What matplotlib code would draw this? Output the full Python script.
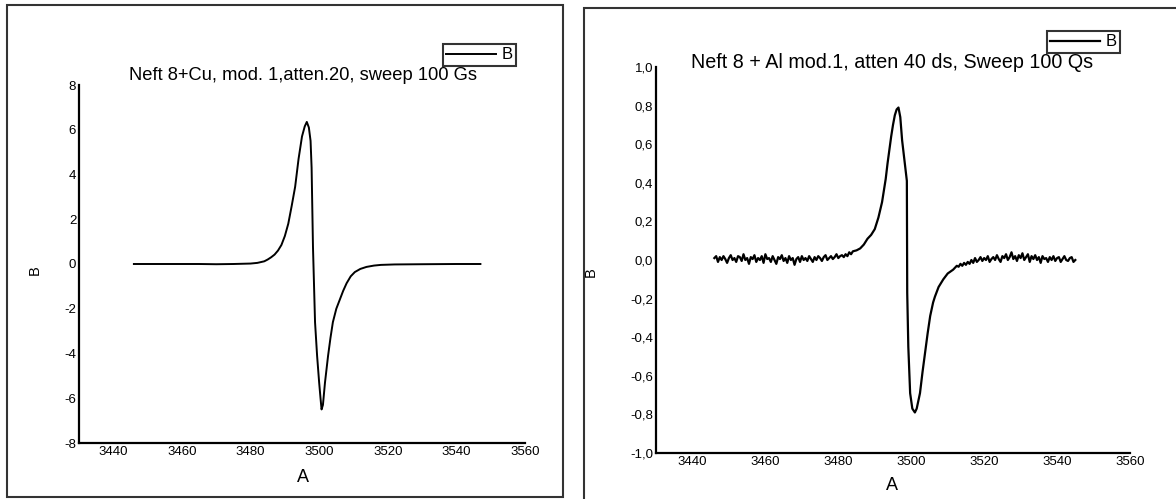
import numpy as np
import matplotlib
matplotlib.use('Agg')
import matplotlib.pyplot as plt
from matplotlib.patches import Rectangle

plt.rcParams['font.family'] = ['Liberation Sans', 'DejaVu Sans']
plt.rcParams['axes.unicode_minus'] = False

W, H = 1176, 499

# --- left panel: Neft 8 + Cu ---
cu_title = "Neft 8+Cu, mod. 1,atten.20, sweep 100 Gs"
cu_x = [3446, 3450, 3455, 3460, 3465, 3470, 3475, 3480, 3482, 3484, 3485, 3486, 3487,
        3488, 3489, 3490, 3491, 3492, 3493, 3494, 3495, 3495.8, 3496.4, 3497.0, 3497.5,
        3497.8, 3498.2, 3498.8, 3499.4, 3500.0, 3500.4, 3500.7, 3501.1, 3501.7, 3502.6,
        3503.3, 3504.0, 3505.0, 3506.0, 3507.0, 3508.0, 3509.2, 3510.4, 3512.0, 3513.8,
        3516, 3518, 3522, 3530, 3540, 3547]
cu_y = [0, 0, 0, 0, 0, -0.01, 0, 0.02, 0.05, 0.12, 0.2, 0.3, 0.42,
        0.6, 0.85, 1.25, 1.8, 2.6, 3.45, 4.7, 5.7, 6.15, 6.35, 6.1, 5.5,
        4.3, 0.76, -2.6, -4.1, -5.3, -6.0, -6.5, -6.3, -5.3, -4.1,
        -3.3, -2.6, -2.0, -1.6, -1.2, -0.86, -0.55, -0.36, -0.22, -0.13,
        -0.07, -0.04, -0.02, -0.01, 0, 0]
cu_yticks = [-8, -6, -4, -2, 0, 2, 4, 6, 8]
cu_ylabels = ["-8", "-6", "-4", "-2", "0", "2", "4", "6", "8"]

# --- right panel: Neft 8 + Al ---
al_title = "Neft 8 + Al mod.1, atten 40 ds, Sweep 100 Qs"
# noisy baseline before the line, sampled every 0.5 G from 3446
al_base1 = [
    0.01, 0.02, -0.01, 0.015, 0.0, 0.02, 0.005, -0.015, 0.01, 0.025,
    0.0, 0.01, -0.01, 0.02, 0.015, -0.005, 0.03, 0.0, 0.01, -0.02,
    0.015, 0.005, 0.025, -0.01, 0.01, 0.0, 0.02, -0.015, 0.03, 0.005,
    0.01, -0.01, 0.02, 0.0, -0.02, 0.015, 0.005, 0.025, -0.005, 0.01,
    -0.015, 0.02, 0.0, 0.01, -0.025, 0.005, 0.015, -0.01, 0.02, 0.0,
    0.01, -0.005, 0.02, 0.005, -0.01, 0.015, 0.0, 0.02, 0.01, -0.005,
    0.015, 0.025, 0.0, 0.01, 0.02, 0.005, 0.015, 0.03, 0.01, 0.02,
    0.025, 0.015, 0.03, 0.02, 0.04, 0.03, 0.045]
al_line_x = [3485, 3486, 3487, 3488, 3489, 3490, 3491, 3492, 3492.5, 3493, 3493.5,
             3494, 3494.5, 3495, 3495.5, 3496, 3496.5, 3497, 3497.5, 3498.8, 3498.9,
             3499.2, 3499.7, 3500.3, 3501.0, 3501.5, 3502.4, 3503.1, 3503.8, 3504.5,
             3505.2, 3506.0, 3506.5, 3507.5, 3508.8, 3510, 3511.5]
al_line_y = [0.05, 0.06, 0.08, 0.11, 0.13, 0.16, 0.22, 0.3, 0.36, 0.42, 0.5,
             0.57, 0.64, 0.7, 0.75, 0.78, 0.79, 0.74, 0.62, 0.41, -0.17,
             -0.45, -0.69, -0.77, -0.79, -0.77, -0.69, -0.58, -0.48, -0.38,
             -0.29, -0.22, -0.19, -0.14, -0.10, -0.07, -0.05]
# noisy baseline after the line, every 0.5 G from 3512
al_base2 = [
    -0.04, -0.03, -0.035, -0.02, -0.03, -0.015, -0.025, -0.01, -0.02, 0.0,
    -0.015, 0.01, -0.01, 0.0, 0.015, -0.005, 0.01, 0.0, 0.02, -0.01,
    0.005, 0.015, 0.0, 0.025, 0.005, -0.01, 0.02, 0.01, 0.03, 0.0,
    0.015, 0.04, 0.005, 0.02, -0.005, 0.025, 0.01, 0.035, 0.0, 0.015,
    0.03, -0.01, 0.02, 0.005, 0.025, 0.0, 0.015, -0.015, 0.02, 0.005,
    0.01, -0.01, 0.015, 0.0, 0.02, -0.005, 0.01, 0.015, -0.01, 0.005,
    0.02, 0.0, -0.005, 0.01, 0.015, -0.01, 0.0]
al_yticks = [-1.0, -0.8, -0.6, -0.4, -0.2, 0.0, 0.2, 0.4, 0.6, 0.8, 1.0]
al_ylabels = ["-1,0", "-0,8", "-0,6", "-0,4", "-0,2", "0,0", "0,2", "0,4", "0,6", "0,8", "1,0"]

xticks = [3440, 3460, 3480, 3500, 3520, 3540, 3560]


def px_axes(fig, x0, y0, x1, y1):
    # pixel box (top-down y) -> figure axes
    return fig.add_axes([x0 / W, 1 - y1 / H, (x1 - x0) / W, (y1 - y0) / H])


def style_axes(ax, ylim, yticks, ylabels):
    ax.set_xlim(3430, 3560)
    ax.set_ylim(*ylim)
    for side in ("top", "right"):
        ax.spines[side].set_visible(False)
    for side in ("left", "bottom"):
        ax.spines[side].set_linewidth(1.6)
    ax.set_xticks(xticks)
    ax.set_xticklabels([str(t) for t in xticks])
    ax.set_yticks(yticks)
    ax.set_yticklabels(ylabels)
    ax.tick_params(length=0, labelsize=9.5, pad=2)
    ax.patch.set_alpha(0)


def legend_box(ax, fig, x0, y0):
    ax.legend(loc="upper left", bbox_to_anchor=(x0 / W, 1 - y0 / H),
              bbox_transform=fig.transFigure, fancybox=False, frameon=True,
              edgecolor="black", fontsize=12, handlelength=3.0,
              handletextpad=0.3, borderpad=0.2, borderaxespad=0)
    ax.get_legend().get_frame().set_linewidth(1.5)


def main():
    fig = plt.figure(figsize=(W / 100, H / 100), dpi=100)

    # panel frames
    fig.patches.append(Rectangle((7 / W, 1 - 497 / H), 556 / W, 492 / H,
                                 transform=fig.transFigure, fill=False,
                                 edgecolor="#333333", linewidth=1.5))
    fig.patches.append(Rectangle((584 / W, -0.05), 0.6, 1.05 - 8 / H,
                                 transform=fig.transFigure, fill=False,
                                 edgecolor="#333333", linewidth=1.5))

    # left panel
    ax1 = px_axes(fig, 79, 85, 525, 443)
    ax1.plot(cu_x, cu_y, color="black", lw=1.4, label="B")
    style_axes(ax1, (-8, 8), cu_yticks, cu_ylabels)
    legend_box(ax1, fig, 443, 44)
    fig.text(303 / W, 1 - 75 / H, cu_title, ha="center", va="center", fontsize=13.2)
    fig.text(303 / W, 1 - 477 / H, "A", ha="center", va="center", fontsize=13)
    fig.text(35 / W, 1 - 270 / H, "B", ha="center", va="center", fontsize=10.5, rotation=90)

    # right panel
    al_x = list(np.arange(3446, 3484.5, 0.5)) + al_line_x + list(np.arange(3512, 3545.5, 0.5))
    al_y = al_base1 + al_line_y + al_base2
    ax2 = px_axes(fig, 656, 67, 1130, 453)
    ax2.plot(al_x, al_y, color="black", lw=1.6, label="B")
    style_axes(ax2, (-1, 1), al_yticks, al_ylabels)
    legend_box(ax2, fig, 1047, 31)
    fig.text(892 / W, 1 - 62 / H, al_title, ha="center", va="center", fontsize=14.2)
    fig.text(892 / W, 1 - 485 / H, "A", ha="center", va="center", fontsize=13)
    fig.text(591 / W, 1 - 272 / H, "B", ha="center", va="center", fontsize=10.5, rotation=90)

    fig.savefig("out.png", dpi=100)


if __name__ == "__main__":
    main()
